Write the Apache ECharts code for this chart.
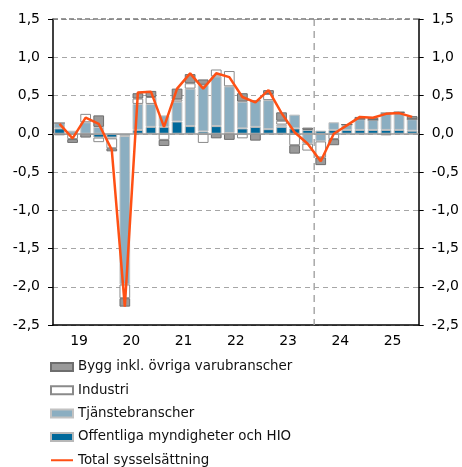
<!DOCTYPE html>
<html>
<head>
<meta charset="utf-8">
<script src="https://cdn.jsdelivr.net/npm/echarts@6/dist/echarts.min.js"></script>
<style>
  html, body { margin: 0; padding: 0; background: #fff; }
  #chart { width: 462px; height: 467px; }
</style>
</head>
<body>
<div id="chart"></div>
<script>
const years = ["19", "20", "21", "22", "23", "24", "25"];
const quarters = years.flatMap((y) => ["K1", "K2", "K3", "K4"].map((q) => y + q));

// bidrag per sektor, procentenheter
const offentliga = [0.07, 0.0, 0.0, -0.05, -0.05, -0.03, 0.05, 0.09, 0.09, 0.16, 0.10, 0.03, 0.10, 0.01, 0.07, 0.09, 0.06, 0.09, 0.07, 0.05, 0.04, 0.05, 0.05, 0.05, 0.05, 0.05, 0.05, 0.04];
const tjanste = [0.07, 0.04, 0.15, 0.09, -0.01, -1.94, 0.34, 0.30, 0.15, 0.26, 0.49, 0.61, 0.65, 0.61, 0.35, 0.34, 0.38, 0.03, 0.18, -0.13, -0.10, 0.10, 0.07, 0.14, 0.13, 0.22, 0.23, 0.15];
const industri = [0.0, -0.07, 0.11, -0.06, -0.13, -0.18, 0.07, 0.09, -0.08, 0.03, 0.07, -0.12, 0.09, 0.20, -0.06, 0.0, 0.08, 0.05, -0.15, -0.09, -0.21, -0.07, 0.0, 0.0, 0.0, 0.0, 0.0, 0.0];
const bygg = [-0.02, -0.05, -0.05, 0.15, -0.04, -0.11, 0.07, 0.08, -0.08, 0.14, 0.12, 0.07, -0.06, -0.08, 0.11, -0.09, 0.05, 0.11, -0.11, 0.03, -0.10, -0.08, 0.0, 0.03, 0.03, -0.02, 0.0, 0.04];
const total = [0.13, -0.06, 0.21, 0.13, -0.21, -2.26, 0.54, 0.55, 0.09, 0.59, 0.79, 0.59, 0.79, 0.74, 0.48, 0.41, 0.57, 0.27, 0.02, -0.13, -0.36, 0.0, 0.11, 0.22, 0.21, 0.26, 0.27, 0.22];

const dividerQuarter = 20; // prognos från 2024
const yMin = -2.5, yMax = 1.5, yStep = 0.5;

const font = "DejaVu Sans";
const fmt = (v) => v.toFixed(1).replace(".", ",");

const chart = echarts.init(document.getElementById("chart"));

const barBase = { type: "bar", stack: "bidrag", barCategoryGap: "18%", xAxisIndex: 0, yAxisIndex: 0 };

chart.setOption({
  animation: false,
  grid: { left: 53, right: 41.5, top: 19, bottom: 142, containLabel: false },
  legend: {
    orient: "vertical",
    left: 50,
    top: 360,
    height: 140,
    padding: 0,
    itemWidth: 22,
    itemHeight: 8,
    itemGap: 9.3,
    selectedMode: false,
    textStyle: { fontFamily: font, fontSize: 13.4, color: "#111", lineHeight: 14 },
    data: [
      { name: "Bygg inkl. övriga varubranscher", icon: "rect" },
      { name: "Industri", icon: "rect" },
      { name: "Tjänstebranscher", icon: "rect" },
      { name: "Offentliga myndigheter och HIO", icon: "rect" },
      {
        name: "Total sysselsättning",
        icon: "path://M0,0H0.01V0.01H0Z M0,3H22V5H0Z M0,7.99H0.01V8H0Z",
      },
    ],
  },
  xAxis: [
    {
      type: "category",
      data: quarters,
      position: "bottom",
      axisLine: { onZero: false, lineStyle: { color: "#000", width: 1.5 } },
      axisTick: { inside: true, interval: 3, length: 5, lineStyle: { color: "#000" } },
      axisLabel: { show: false },
      splitLine: { show: false },
    },
    {
      type: "category",
      data: years,
      position: "bottom",
      axisLine: { show: false, onZero: false },
      axisTick: { length: 5, lineStyle: { color: "#000" } },
      axisLabel: { margin: 9, fontFamily: font, fontSize: 14, color: "#000" },
      splitLine: { show: false },
    },
    { type: "value", min: 0, max: quarters.length, show: false },
  ],
  yAxis: [
    {
      type: "value",
      position: "left",
      min: yMin,
      max: yMax,
      interval: yStep,
      axisLine: { show: true, lineStyle: { color: "#000", width: 1.5 } },
      axisTick: { show: true, length: 5, lineStyle: { color: "#000" } },
      axisLabel: { margin: 13, formatter: fmt, fontFamily: font, fontSize: 14, color: "#000" },
      splitLine: { show: true, lineStyle: { color: "#a6a6a6", type: [5, 4], width: 1 } },
    },
    {
      type: "value",
      position: "right",
      min: yMin,
      max: yMax,
      interval: yStep,
      axisLine: { show: true, lineStyle: { color: "#000", width: 1.5 } },
      axisTick: { show: true, length: 5, lineStyle: { color: "#000" } },
      axisLabel: { margin: 13, formatter: fmt, fontFamily: font, fontSize: 14, color: "#000" },
      splitLine: { show: false },
    },
  ],
  series: [
    {
      ...barBase,
      name: "Offentliga myndigheter och HIO",
      data: offentliga,
      itemStyle: { color: "#00699b", borderColor: "#b8b8b8", borderWidth: 1 },
    },
    {
      ...barBase,
      name: "Tjänstebranscher",
      data: tjanste,
      itemStyle: { color: "#8baec1", borderColor: "#c2c2c2", borderWidth: 1 },
    },
    {
      ...barBase,
      name: "Industri",
      data: industri,
      itemStyle: { color: "#ffffff", borderColor: "#8a8a8a", borderWidth: 1 },
    },
    {
      ...barBase,
      name: "Bygg inkl. övriga varubranscher",
      data: bygg,
      itemStyle: { color: "#9a9a9a", borderColor: "#6e6e6e", borderWidth: 1 },
      markLine: {
        silent: true,
        symbol: "none",
        label: { show: false },
        data: [
          { yAxis: 0, lineStyle: { color: "#9a9a9a", type: "solid", width: 1.5 } },
          { yAxis: yMax, lineStyle: { color: "#7a7a7a", type: [5, 3], width: 1.5 } },
        ],
      },
    },
    {
      type: "line",
      name: "prognos",
      xAxisIndex: 2,
      yAxisIndex: 0,
      silent: true,
      symbol: "none",
      data: [[dividerQuarter, yMax], [dividerQuarter, yMin]],
      lineStyle: { color: "#a8a8a8", type: [7, 5], width: 1.5 },
      z: 1,
    },
    {
      type: "line",
      name: "Total sysselsättning",
      data: total,
      symbol: "none",
      xAxisIndex: 0,
      yAxisIndex: 0,
      lineStyle: { color: "#ff5014", width: 2.5 },
      itemStyle: { color: "#ff5014" },
      z: 5,
    },
  ],
});
</script>
</body>
</html>
